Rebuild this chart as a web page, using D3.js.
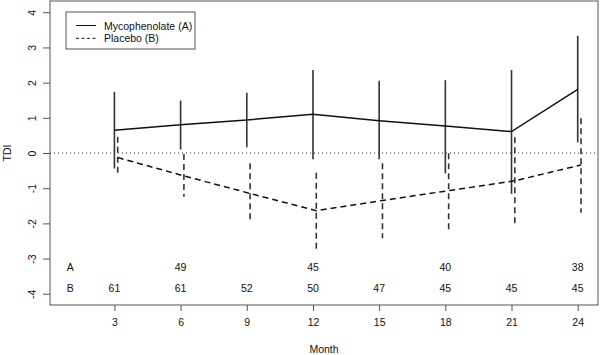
<!DOCTYPE html>
<html>
<head>
<meta charset="utf-8">
<script src="https://cdn.jsdelivr.net/npm/d3@7"></script>
<style>
  html, body { margin: 0; padding: 0; background: #fff; }
  svg { display: block; font-family: "Liberation Sans", Arial, sans-serif; }
</style>
</head>
<body>
<svg id="chart" width="600" height="355"></svg>
<script>
// ---- data ----
const months = [3, 6, 9, 12, 15, 18, 21, 24];
const xTicks = [3, 6, 9, 12, 15, 18, 21, 24];
const yTicks = [-4, -3, -2, -1, 0, 1, 2, 3, 4];

const mycoMean  = [0.65, 0.80, 0.94, 1.10, 0.92, 0.77, 0.61, 1.81];
const mycoUpper = [1.74, 1.49, 1.71, 2.36, 2.05, 2.07, 2.36, 3.33];
const mycoLower = [-0.44, 0.10, 0.16, -0.18, -0.18, -0.58, -1.16, 0.30];

const placMean  = [-0.13, -0.65, -1.15, -1.64, -1.35, -1.07, -0.79, -0.34];
const placUpper = [0.46, -0.03, -0.29, -0.56, -0.29, -0.01, 0.45, 0.99];
const placLower = [-0.67, -1.24, -1.98, -2.76, -2.42, -2.17, -2.02, -1.70];

const nA = [null, 49, null, 45, null, 40, null, 38];
const nB = [61, 61, 52, 50, 47, 45, 45, 45];
const rowLabels = ["A", "B"];
const rowY = [-3.24, -3.84];
const legendLabels = ["Mycophenolate (A)", "Placebo (B)"];
const placeboShift = 0.15;

// ---- layout ----
const svg = d3.select("#chart");
const x = d3.scaleLinear().domain([0.08, 24.92]).range([50, 598]);
const y = d3.scaleLinear().domain([-4.32, 4.32]).range([305, 1]);
const axisColor = "#555";
const fs = 10.5;

// zero reference line
svg.append("line")
  .attr("x1", x.range()[0]).attr("x2", x.range()[1])
  .attr("y1", y(0)).attr("y2", y(0))
  .attr("stroke", "#222").attr("stroke-width", 1)
  .attr("stroke-dasharray", "1,3");

// series
const series = [
  {mean: mycoMean, lo: mycoLower, hi: mycoUpper, shift: 0, dash: null},
  {mean: placMean, lo: placLower, hi: placUpper, shift: placeboShift, dash: "6,4"}
];
series.forEach(s => {
  const g = svg.append("g");
  g.selectAll("line.err").data(months).join("line")
    .attr("x1", (m) => x(m + s.shift)).attr("x2", (m) => x(m + s.shift))
    .attr("y1", (m, i) => y(s.hi[i])).attr("y2", (m, i) => y(s.lo[i]))
    .attr("stroke", "#333").attr("stroke-width", 1.6)
    .attr("stroke-dasharray", s.dash);
  const line = d3.line().x((d) => x(d[0] + s.shift)).y((d) => y(d[1]));
  g.append("path")
    .attr("d", line(months.map((m, i) => [m, s.mean[i]])))
    .attr("fill", "none").attr("stroke", "#111").attr("stroke-width", 1.5)
    .attr("stroke-dasharray", s.dash);
});

// n at risk rows
const nRows = [nA, nB];
rowLabels.forEach((lab, r) => {
  svg.append("text").attr("x", x(1)).attr("y", y(rowY[r]))
    .attr("text-anchor", "middle").attr("dominant-baseline", "central")
    .attr("font-size", fs).attr("fill", "#111").text(lab);
  svg.append("g").selectAll("text").data(months).join("text")
    .attr("x", (m) => x(m)).attr("y", y(rowY[r]))
    .attr("text-anchor", "middle").attr("dominant-baseline", "central")
    .attr("font-size", fs).attr("fill", "#111")
    .text((m, i) => nRows[r][i] == null ? "" : nRows[r][i]);
});

// plot box
svg.append("rect")
  .attr("x", x.range()[0]).attr("y", y.range()[1])
  .attr("width", x.range()[1] - x.range()[0])
  .attr("height", y.range()[0] - y.range()[1])
  .attr("fill", "none").attr("stroke", axisColor).attr("stroke-width", 1);

// x axis
const xAxis = svg.append("g").attr("transform", `translate(0,${y.range()[0]})`)
  .call(d3.axisBottom(x).tickValues(xTicks).tickSize(6).tickPadding(8).tickFormat((d) => String(d)));
xAxis.select(".domain").remove();
xAxis.selectAll("line").attr("stroke", axisColor);
xAxis.selectAll("text").attr("font-size", fs).attr("fill", "#111")
  .attr("font-family", "Liberation Sans, Arial, sans-serif");

// y axis
const yAxis = svg.append("g").attr("transform", `translate(${x.range()[0]},0)`)
  .call(d3.axisLeft(y).tickValues(yTicks).tickSize(7).tickFormat((d) => String(d)));
yAxis.select(".domain").remove();
yAxis.selectAll("line").attr("stroke", axisColor);
yAxis.selectAll("text")
  .attr("font-size", fs).attr("fill", "#111")
  .attr("font-family", "Liberation Sans, Arial, sans-serif")
  .attr("text-anchor", "middle").attr("dy", null).attr("dominant-baseline", null)
  .attr("x", null)
  .attr("transform", "translate(-14,0) rotate(-90)");

// axis titles
svg.append("text").attr("x", (x.range()[0] + x.range()[1]) / 2).attr("y", 353)
  .attr("text-anchor", "middle").attr("font-size", fs).attr("fill", "#111").text("Month");
svg.append("text")
  .attr("transform", `translate(11,${(y.range()[0] + y.range()[1]) / 2}) rotate(-90)`)
  .attr("text-anchor", "middle").attr("font-size", fs).attr("fill", "#111").text("TDI");

// legend
const lg = svg.append("g");
lg.append("rect").attr("x", 66).attr("y", 12).attr("width", 129).attr("height", 37)
  .attr("fill", "#fff").attr("stroke", axisColor).attr("stroke-width", 1);
legendLabels.forEach((lab, i) => {
  const ly = 25.5 + i * 12.8;
  lg.append("line").attr("x1", 76).attr("x2", 96).attr("y1", ly).attr("y2", ly)
    .attr("stroke", "#111").attr("stroke-width", 1)
    .attr("stroke-dasharray", series[i].dash ? "3,2.5" : null);
  lg.append("text").attr("x", 104).attr("y", ly).attr("dominant-baseline", "central")
    .attr("font-size", fs).attr("fill", "#111").text(lab);
});
</script>
</body>
</html>
